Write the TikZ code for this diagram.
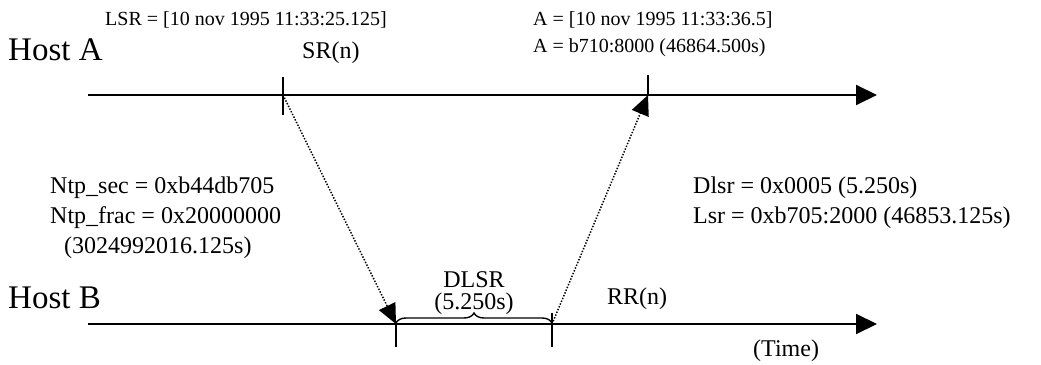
\documentclass[tikz,border=0pt]{standalone}
\usepackage{fontspec}
\setmainfont{Liberation Serif}
\usetikzlibrary{arrows.meta,decorations.pathreplacing}
\tikzset{
  axis/.style={line width=2pt, -{Triangle[length=21pt,width=20pt]}},
  tickmark/.style={line width=2pt},
  msg/.style={line width=1.5pt, dash pattern=on 1.4pt off 1.6pt,
              -{Triangle[length=20pt,width=18pt]}},
  hostlbl/.style={font=\fontsize{33}{36}\selectfont, anchor=base west, inner sep=0pt},
  lbl/.style={font=\fontsize{24}{28}\selectfont, anchor=base west, inner sep=0pt},
  smalllbl/.style={font=\fontsize{20}{24}\selectfont, anchor=base west, inner sep=0pt}
}
\begin{document}
\begin{tikzpicture}[x=1pt, y=-1pt,
  gap/.style={decorate, decoration={brace, amplitude=10pt}, line width=1.4pt}
]
\useasboundingbox (0,0) rectangle (1041,364);
% ---- time lines ----
\coordinate (a0) at (88,95);  \coordinate (a1) at (877,95);
\coordinate (b0) at (88,324); \coordinate (b1) at (877,324);
\draw[axis] (a0) -- (a1);
\draw[axis] (b0) -- (b1);
% ---- events ----
\coordinate (sr) at (283,95);
\coordinate (ar) at (648,95);
\coordinate (rx) at (396,324);
\coordinate (rr) at (552,324);
\draw[tickmark] (283,77) -- (283,115);
\draw[tickmark] (648,75) -- (ar);
\draw[tickmark] (rx) -- (396,347);
\draw[tickmark] (552,313) -- (552,347);
% ---- packets ----
\draw[msg] (sr) -- (rx);
\draw[msg] (rr) -- (ar);
\draw[gap] (396,323) -- (552,323);
% ---- labels ----
\node[hostlbl] (hostA) at (8,60) {Host A};
\node[hostlbl] (hostB) at (8,308) {Host B};
\node[lbl] (srn) at (302,58) {SR(n)};
\node[lbl] (rrn) at (607,304) {RR(n)};
\node[smalllbl] (lsr) at (105,25) {LSR = [10 nov 1995 11:33:25.125]};
\node[smalllbl] (arr1) at (533,25) {A = [10 nov 1995 11:33:36.5]};
\node[smalllbl] (arr2) at (533,52) {A = b710:8000 (46864.500s)};
\node[lbl] (ntpsec) at (50,193) {Ntp\_sec = 0xb44db705};
\node[lbl] (ntpfrac) at (50,223) {Ntp\_frac = 0x20000000};
\node[lbl] (ntpsum) at (64,253) {(3024992016.125s)};
\node[lbl] (dlsrval) at (693,193) {Dlsr = 0x0005 (5.250s)};
\node[lbl] (lsrval) at (693,223) {Lsr = 0xb705:2000 (46853.125s)};
\node[lbl, anchor=base] (dlsr) at (474,287) {DLSR};
\node[lbl, anchor=base] (dlsrsec) at (474,309) {(5.250s)};
\node[lbl] (time) at (753,356) {(Time)};
\end{tikzpicture}
\end{document}
